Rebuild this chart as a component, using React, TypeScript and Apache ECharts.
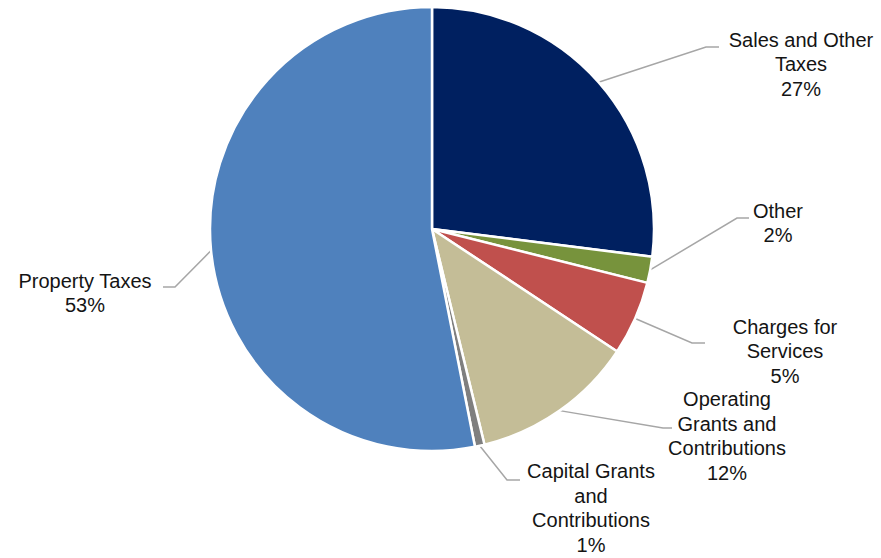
import React, { useEffect, useRef } from "react";
import * as echarts from "echarts";

const categories = [
  "Sales and Other Taxes",
  "Other",
  "Charges for Services",
  "Operating Grants and Contributions",
  "Capital Grants and Contributions",
  "Property Taxes",
];
const wrappedNames = [
  "Sales and Other\nTaxes",
  "Other",
  "Charges for\nServices",
  "Operating\nGrants and\nContributions",
  "Capital Grants\nand\nContributions",
  "Property Taxes",
];
const shares = [27, 1.9, 5.4, 11.9, 0.7, 53.1];
const colors = ["#002060", "#77933C", "#C0504D", "#C4BD97", "#7F7F7F", "#4F81BD"];

// label anchor (block centre) and elbow/end points of leader lines
const labelAnchors: [number, number][] = [
  [801, 64],
  [778, 223],
  [785, 351],
  [727, 436],
  [591, 508],
  [85, 293],
];
const lineElbows: [number, number][][] = [
  [[706, 47], [719, 47]],
  [[737, 218], [749, 218]],
  [[692, 343], [705, 343]],
  [[663, 428], [672, 428]],
  [[507, 480], [520, 480]],
  [[175, 287], [163, 287]],
];

export default function App() {
  const ref = useRef<HTMLDivElement>(null);
  useEffect(() => {
    if (!ref.current) return;
    const chart = echarts.init(ref.current, null, { renderer: "svg" });
    chart.setOption({
      animation: false,
      backgroundColor: "#ffffff",
      series: [
        {
          type: "pie",
          center: [432, 229],
          radius: 222,
          startAngle: 90,
          clockwise: true,
          avoidLabelOverlap: false,
          data: categories.map((c, i) => ({
            name: c,
            value: shares[i],
            itemStyle: { color: colors[i] },
          })),
          itemStyle: { borderColor: "#ffffff", borderWidth: 2.5 },
          label: {
            show: true,
            position: "outside",
            formatter: (p: any) => wrappedNames[p.dataIndex] + "\n" + Math.round(p.percent) + "%",
            fontFamily: "Liberation Sans, Arial, sans-serif",
            fontSize: 20,
            lineHeight: 24.5,
            color: "#141414",
            align: "center",
          },
          labelLine: {
            show: true,
            lineStyle: { color: "#A6A6A6", width: 1.5 },
          },
          labelLayout: (params: any) => {
            const i = params.dataIndex;
            const start = params.labelLinePoints ? params.labelLinePoints[0] : lineElbows[i][0];
            return {
              x: labelAnchors[i][0],
              y: labelAnchors[i][1],
              align: "center",
              verticalAlign: "middle",
              labelLinePoints: [start, lineElbows[i][0], lineElbows[i][1]],
            };
          },
          emphasis: { disabled: true },
        },
      ],
    });
    return () => chart.dispose();
  }, []);
  return (
    <div
      ref={ref}
      style={{ position: "fixed", left: 0, top: 0, width: 881, height: 558, background: "#fff" }}
    />
  );
}
